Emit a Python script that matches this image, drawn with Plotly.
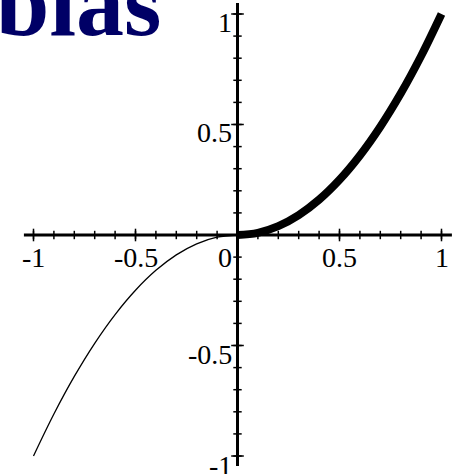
import plotly.graph_objects as go

# Curve samples: left branch (thin) and right branch (thick)
x_left = [-1.0, -0.9, -0.8, -0.7, -0.6, -0.5, -0.4, -0.3, -0.2, -0.1, 0.0]
y_left = [-1.0, -0.81, -0.64, -0.49, -0.36, -0.25, -0.16, -0.09, -0.04, -0.01, 0.0]
x_right = [0.0, 0.1, 0.2, 0.3, 0.4, 0.5, 0.6, 0.7, 0.8, 0.9, 1.0]
y_right = [0.0, 0.01, 0.04, 0.09, 0.16, 0.25, 0.36, 0.49, 0.64, 0.81, 1.0]

# Axis ticks
minor_ticks = [-1.0, -0.9, -0.8, -0.7, -0.6, -0.5, -0.4, -0.3, -0.2, -0.1,
               0.1, 0.2, 0.3, 0.4, 0.5, 0.6, 0.7, 0.8, 0.9, 1.0]
major_ticks = [-1.0, -0.5, 0.5, 1.0]
x_tick_vals = [-1.0, -0.5, 0.0, 0.5, 1.0]
x_tick_text = ["-1", "-0.5", "0", "0.5", "1"]
y_tick_vals = [1.0, 0.5, -0.5, -1.0]
y_tick_text = ["1", "0.5", "-0.5", "-1"]

title_text = "blas"

W, H = 457, 474
X_RANGE = [-1.1642, 1.0760]
Y_RANGE = [-1.0814, 1.0633]
LABEL_FONT = dict(family="Liberation Serif, Times New Roman, serif", size=28, color="black")

fig = go.Figure()

# curves
fig.add_trace(go.Scatter(x=x_left, y=y_left, mode="lines",
                         line=dict(color="black", width=1.3, shape="spline"),
                         hoverinfo="skip"))
fig.add_trace(go.Scatter(x=x_right, y=y_right, mode="lines",
                         line=dict(color="black", width=8, shape="spline"),
                         hoverinfo="skip"))

# axis lines crossing at the origin
fig.add_shape(type="line", x0=-1.047, x1=1.051, y0=0, y1=0,
              line=dict(color="black", width=3), layer="below")
fig.add_shape(type="line", x0=0, x1=0, y0=-1.045, y1=1.05,
              line=dict(color="black", width=3), layer="below")

# ticks on x axis
fig.add_trace(go.Scatter(x=minor_ticks, y=[0] * len(minor_ticks), mode="markers",
                         marker=dict(symbol="line-ns", size=6,
                                     line=dict(color="black", width=1.5)),
                         hoverinfo="skip"))
fig.add_trace(go.Scatter(x=major_ticks, y=[0] * len(major_ticks), mode="markers",
                         marker=dict(symbol="line-ns", size=9,
                                     line=dict(color="black", width=1.5)),
                         hoverinfo="skip"))
# ticks on y axis
fig.add_trace(go.Scatter(x=[0] * len(minor_ticks), y=minor_ticks, mode="markers",
                         marker=dict(symbol="line-ew", size=6,
                                     line=dict(color="black", width=1.5)),
                         hoverinfo="skip"))
fig.add_trace(go.Scatter(x=[0] * len(major_ticks), y=major_ticks, mode="markers",
                         marker=dict(symbol="line-ew", size=9,
                                     line=dict(color="black", width=1.5)),
                         hoverinfo="skip"))

annotations = []
for v, t in zip(x_tick_vals, x_tick_text):
    if v == 0:
        annotations.append(dict(x=v, y=0, text=t, showarrow=False, font=LABEL_FONT,
                                xanchor="right", yanchor="top", xshift=-4, yshift=-5))
    else:
        annotations.append(dict(x=v, y=0, text=t, showarrow=False, font=LABEL_FONT,
                                xanchor="center", yanchor="top", yshift=-5))
for v, t in zip(y_tick_vals, y_tick_text):
    # the bottom label sits a touch lower, against the bottom edge
    shift = 8 if v == -1.0 else 9
    annotations.append(dict(x=0, y=v, text=t, showarrow=False, font=LABEL_FONT,
                            xanchor="right", yanchor="top", xshift=-4, yshift=shift))

annotations.append(dict(xref="paper", yref="paper", x=163 / W, y=1 - 58 / H,
                        text="<b>" + title_text + "</b>", showarrow=False,
                        xanchor="right", yanchor="bottom",
                        font=dict(family="Liberation Serif, Times New Roman, serif",
                                  size=96, color="#000066")))

fig.update_layout(
    width=W, height=H,
    margin=dict(l=0, r=0, t=0, b=0),
    paper_bgcolor="white", plot_bgcolor="white",
    showlegend=False,
    xaxis=dict(range=X_RANGE, visible=False, fixedrange=True),
    yaxis=dict(range=Y_RANGE, visible=False, fixedrange=True),
    annotations=annotations,
)

fig.write_html("out.html")
